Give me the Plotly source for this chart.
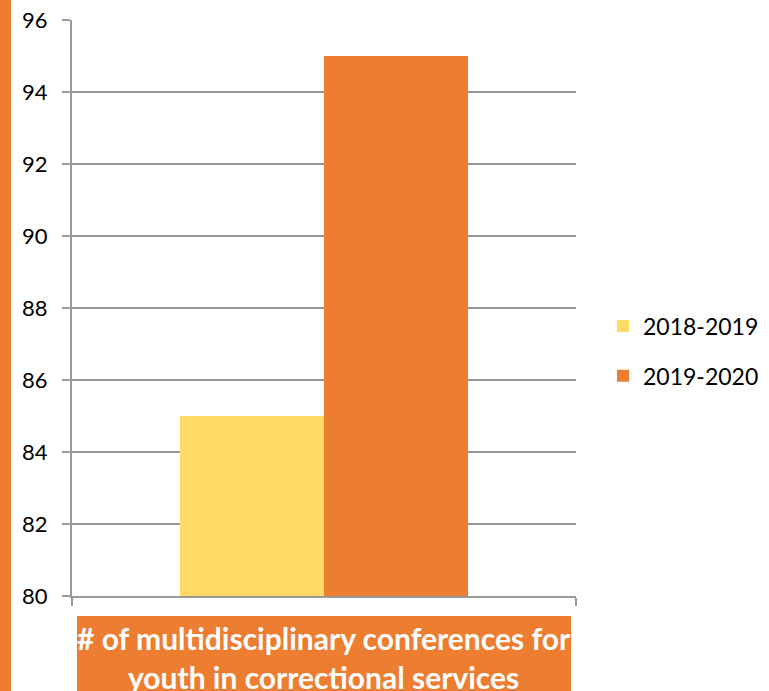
import plotly.graph_objects as go

categories = ["# of multidisciplinary conferences for<br>youth in correctional services"]
series_names = ["2018-2019", "2019-2020"]
series_values = [[85], [95]]
colors = ["#FFD966", "#ED7D31"]
y_ticks = [80, 82, 84, 86, 88, 90, 92, 94, 96]

fig = go.Figure()
for name, vals, c in zip(series_names, series_values, colors):
    fig.add_trace(go.Bar(x=categories, y=vals, name=name, marker_color=c,
                         marker_line_width=0, legendgroup=name))

W, H = 769, 691
ml, mr, mt, mb = 72, 193, 20, 95
pw, ph = W - ml - mr, H - mt - mb

fig.update_layout(
    width=W, height=H,
    margin=dict(l=ml, r=mr, t=mt, b=mb, autoexpand=False),
    paper_bgcolor="white", plot_bgcolor="white",
    barmode="group", bargap=0.4286, bargroupgap=0,
    font=dict(family="Lato", size=22, color="black"),
    legend=dict(x=(603 - ml) / pw, y=(596 - 351) / ph,
                xanchor="left", yanchor="middle", tracegroupgap=17,
                font=dict(size=23), traceorder="grouped"),
    xaxis=dict(showticklabels=False, showline=True, linecolor="#999999", linewidth=2,
               ticks="outside", tickson="boundaries", ticklen=8, tickcolor="#999999",
               tickwidth=2, showgrid=False, zeroline=False, automargin=False),
    yaxis=dict(range=[80, 96], tickvals=y_ticks, showline=True, linecolor="#999999",
               linewidth=2, ticks="outside", ticklen=8, tickcolor="#999999", tickwidth=2,
               gridcolor="#999999", gridwidth=2, zeroline=False, ticklabelstandoff=10,
               automargin=False),
    shapes=[dict(type="rect", xref="paper", yref="paper",
                 x0=-ml / pw, x1=(11 - ml) / pw, y0=-mb / ph - 0.02, y1=1 + mt / ph + 0.02,
                 fillcolor="#ED7D31", line_width=0, layer="below"),
            dict(type="rect", xref="paper", yref="paper",
                 x0=(77 - ml) / pw, x1=(571 - ml) / pw, y0=-(700 - 596) / ph, y1=-(616 - 596) / ph,
                 fillcolor="#ED7D31", line_width=0, layer="below")],
    annotations=[dict(xref="paper", yref="paper", x=(324 - ml) / pw, y=-(657 - 596) / ph,
                      text=categories[0], showarrow=False,
                      font=dict(family="Lato", size=30, color="white", weight="bold"),
                      xanchor="center", yanchor="middle", align="center")],
)

fig.write_html("out.html", config={"displayModeBar": False},
               post_script="document.body.style.margin='0';")
